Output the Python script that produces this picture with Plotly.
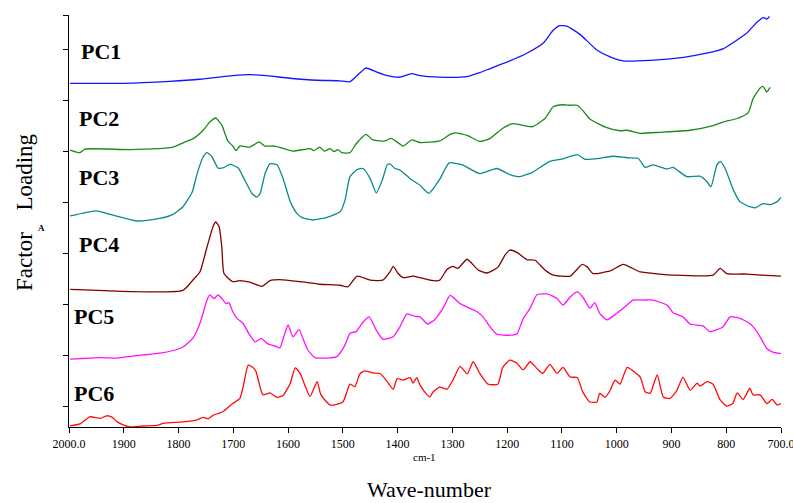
import plotly.graph_objects as go

# ---- data (wavenumber in cm-1, stacked factor loading) ----
pc1_x = [1998, 1901, 1816, 1761, 1701, 1670, 1639, 1597, 1547, 1505, 1487, 1458, 1438, 1418, 1396, 1374, 1359, 1323,
         1274, 1250, 1231, 1195, 1164, 1134, 1116, 1104, 1091, 1067, 1037, 1012, 988, 939, 878, 836, 805, 763, 744, 732, 726, 721]
pc1_y = [6.33, 6.33, 6.37, 6.41, 6.48, 6.50, 6.48, 6.43, 6.39, 6.38, 6.36, 6.63, 6.55, 6.48, 6.45, 6.52, 6.48, 6.45,
         6.46, 6.54, 6.62, 6.77, 6.92, 7.12, 7.37, 7.46, 7.45, 7.29, 6.99, 6.85, 6.77, 6.78, 6.84, 6.92, 7.01, 7.31, 7.53, 7.62, 7.59, 7.64]

pc2_x = [1998, 1980, 1971, 1889, 1810, 1788, 1774, 1755, 1743, 1732, 1721, 1710, 1701, 1695, 1688, 1670, 1653, 1642,
         1624, 1591, 1560, 1553, 1542, 1534, 1523, 1516, 1509, 1502, 1487, 1476, 1458, 1445, 1423, 1412, 1396, 1390,
         1374, 1359, 1323, 1304, 1295, 1273, 1250, 1231, 1208, 1189, 1164, 1153, 1131, 1116, 1098, 1085, 1072, 1062,
         1049, 1018, 994, 981, 957, 921, 866, 824, 806, 780, 760, 751, 738, 733, 726, 720]
pc2_y = [5.02, 4.97, 5.04, 5.03, 5.08, 5.18, 5.24, 5.41, 5.57, 5.65, 5.51, 5.20, 5.10, 5.01, 5.10, 5.08, 5.18, 5.10,
         5.10, 5.00, 5.05, 5.01, 5.08, 5.00, 5.05, 4.99, 5.03, 4.97, 4.97, 5.14, 5.33, 5.22, 5.20, 5.25, 5.14, 5.10,
         5.22, 5.17, 5.20, 5.33, 5.36, 5.31, 5.19, 5.25, 5.45, 5.54, 5.49, 5.48, 5.64, 5.87, 5.91, 5.90, 5.90, 5.80,
         5.63, 5.46, 5.40, 5.41, 5.35, 5.37, 5.41, 5.50, 5.57, 5.64, 5.75, 6.03, 6.24, 6.27, 6.16, 6.25]

pc3_x = [1998, 1949, 1925, 1876, 1834, 1810, 1792, 1775, 1766, 1755, 1748, 1739, 1728, 1719, 1706, 1691, 1679, 1666,
         1657, 1651, 1642, 1633, 1620, 1609, 1596, 1584, 1573, 1555, 1529, 1505, 1496, 1487, 1474, 1463, 1450, 1439,
         1428, 1419, 1414, 1405, 1396, 1377, 1359, 1343, 1323, 1306, 1282, 1250, 1219, 1195, 1177, 1153, 1122, 1098,
         1072, 1058, 1031, 1007, 981, 961, 948, 934, 908, 897, 872, 848, 835, 828, 817, 811, 802, 787, 775, 757, 747,
         733, 720, 707, 700]
pc3_y = [3.73, 3.83, 3.76, 3.63, 3.68, 3.76, 3.91, 4.20, 4.56, 4.89, 4.97, 4.89, 4.67, 4.67, 4.74, 4.67, 4.43, 4.17,
         4.10, 4.17, 4.56, 4.75, 4.73, 4.46, 4.01, 3.78, 3.69, 3.65, 3.70, 3.81, 4.04, 4.50, 4.64, 4.66, 4.46, 4.18,
         4.43, 4.73, 4.75, 4.66, 4.63, 4.46, 4.33, 4.17, 4.45, 4.77, 4.73, 4.56, 4.66, 4.54, 4.50, 4.59, 4.80, 4.85,
         4.93, 4.84, 4.86, 4.90, 4.87, 4.86, 4.68, 4.73, 4.65, 4.68, 4.50, 4.51, 4.40, 4.30, 4.73, 4.80, 4.66, 4.24,
         4.01, 3.91, 3.89, 3.97, 3.95, 4.01, 4.09]

pc4_x = [1998, 1792, 1774, 1761, 1748, 1737, 1732, 1726, 1721, 1717, 1701, 1688, 1670, 1648, 1633, 1615, 1578, 1542,
         1505, 1491, 1474, 1450, 1427, 1414, 1408, 1399, 1390, 1372, 1359, 1335, 1323, 1310, 1299, 1290, 1273, 1253,
         1237, 1217, 1204, 1195, 1180, 1164, 1149, 1131, 1116, 1085, 1063, 1054, 1043, 1012, 988, 957, 921, 897, 824,
         811, 799, 762, 738, 700]
pc4_y = [2.29, 2.27, 2.47, 2.63, 3.12, 3.52, 3.61, 3.52, 3.12, 2.60, 2.44, 2.46, 2.43, 2.35, 2.46, 2.48, 2.44, 2.39,
         2.37, 2.34, 2.55, 2.47, 2.47, 2.63, 2.74, 2.60, 2.52, 2.55, 2.52, 2.46, 2.47, 2.68, 2.74, 2.70, 2.88, 2.67,
         2.61, 2.72, 2.96, 3.06, 3.00, 2.87, 2.86, 2.67, 2.57, 2.55, 2.78, 2.73, 2.60, 2.65, 2.78, 2.63, 2.59, 2.57, 2.57,
         2.70, 2.60, 2.59, 2.57, 2.55]

pc5_x = [1998, 1943, 1912, 1883, 1828, 1806, 1792, 1774, 1761, 1748, 1743, 1735, 1728, 1721, 1713, 1708, 1701, 1693,
         1682, 1670, 1660, 1649, 1637, 1624, 1615, 1607, 1600, 1591, 1580, 1573, 1565, 1551, 1511, 1496, 1487, 1476,
         1463, 1452, 1439, 1427, 1408, 1396, 1383, 1368, 1359, 1345, 1332, 1317, 1304, 1286, 1255, 1244, 1231, 1219,
         1195, 1182, 1171, 1158, 1146, 1127, 1109, 1098, 1085, 1072, 1062, 1049, 1040, 1031, 1018, 1000, 988, 970, 952,
         934, 908, 897, 879, 866, 842, 830, 806, 793, 775, 757, 744, 733, 726, 715, 700]
pc5_y = [0.92, 0.95, 0.94, 0.98, 1.05, 1.10, 1.16, 1.33, 1.62, 2.08, 2.18, 2.11, 2.18, 2.11, 2.01, 2.03, 1.85, 1.72,
         1.62, 1.39, 1.26, 1.33, 1.22, 1.18, 1.14, 1.39, 1.59, 1.36, 1.50, 1.33, 1.12, 0.95, 0.97, 1.20, 1.43, 1.46,
         1.65, 1.75, 1.49, 1.31, 1.36, 1.55, 1.81, 1.76, 1.75, 1.61, 1.70, 1.92, 2.17, 2.01, 1.85, 1.75, 1.55, 1.41,
         1.39, 1.42, 1.71, 1.92, 2.18, 2.20, 2.11, 1.98, 2.14, 2.24, 2.14, 1.92, 2.03, 1.82, 1.69, 1.82, 1.92, 2.08, 2.08,
         2.08, 1.98, 1.83, 1.75, 1.61, 1.57, 1.46, 1.55, 1.75, 1.72, 1.62, 1.46, 1.26, 1.13, 1.06, 1.03]

pc6_x = [1998, 1980, 1962, 1943, 1931, 1921, 1912, 1901, 1889, 1865, 1839, 1828, 1792, 1766, 1755, 1746, 1737, 1719,
         1701, 1688, 1682, 1673, 1666, 1659, 1646, 1633, 1620, 1609, 1596, 1587, 1578, 1560, 1547, 1540, 1523, 1500,
         1487, 1478, 1469, 1460, 1445, 1432, 1419, 1408, 1401, 1390, 1377, 1372, 1365, 1359, 1346, 1341, 1335, 1323,
         1310, 1299, 1286, 1273, 1262, 1250, 1235, 1217, 1208, 1195, 1182, 1171, 1158, 1146, 1135, 1122, 1109, 1098,
         1085, 1072, 1062, 1049, 1036, 1031, 1021, 1012, 1003, 994, 981, 970, 957, 948, 939, 926, 915, 903, 890, 879,
         866, 853, 848, 835, 824, 811, 799, 788, 780, 769, 757, 751, 738, 726, 716, 707, 700]
pc6_y = [-0.39, -0.35, -0.21, -0.24, -0.19, -0.22, -0.31, -0.37, -0.41, -0.39, -0.38, -0.34, -0.31, -0.27, -0.22,
         -0.25, -0.18, -0.11, 0.05, 0.15, 0.38, 0.80, 0.77, 0.69, 0.22, 0.26, 0.17, 0.21, 0.45, 0.75, 0.64, 0.19, 0.48,
         0.22, 0.02, 0.08, 0.43, 0.38, 0.63, 0.69, 0.65, 0.64, 0.48, 0.33, 0.54, 0.51, 0.56, 0.45, 0.56, 0.41, 0.22,
         0.18, 0.28, 0.37, 0.33, 0.51, 0.78, 0.63, 0.87, 0.64, 0.43, 0.43, 0.76, 0.90, 0.84, 0.71, 0.87, 0.74, 0.64,
         0.82, 0.64, 0.76, 0.57, 0.56, 0.28, 0.08, 0.08, 0.25, 0.17, 0.31, 0.51, 0.43, 0.76, 0.69, 0.57, 0.28, 0.25,
         0.61, 0.18, 0.15, 0.31, 0.57, 0.31, 0.45, 0.39, 0.48, 0.43, 0.12, 0.00, 0.05, 0.26, 0.13, 0.35, 0.22, 0.22,
         0.05, 0.13, 0.02, 0.05]

series_names = ["PC1", "PC2", "PC3", "PC4", "PC5", "PC6"]
series_x = [pc1_x, pc2_x, pc3_x, pc4_x, pc5_x, pc6_x]
series_y = [pc1_y, pc2_y, pc3_y, pc4_y, pc5_y, pc6_y]
colors = ["#1414ff", "#1a8a1a", "#0a8a8a", "#800000", "#ff10ff", "#ff0a0a"]

# label anchors (wavenumber of left edge, loading level)
label_x = [1982, 1986, 1986, 1986, 1994, 1994]
label_y = [6.96, 5.65, 4.48, 3.16, 1.76, 0.25]

x_ticks = [2000, 1900, 1800, 1700, 1600, 1500, 1400, 1300, 1200, 1100, 1000, 900, 800, 700]
x_ticktext = ["2000.0", "1900", "1800", "1700", "1600", "1500", "1400", "1300", "1200", "1100", "1000", "900", "800", "700.0"]
y_ticks = [0, 1, 2, 3, 4, 5, 6, 7, 7.67]

SERIF = "Liberation Serif, Times New Roman, serif"

fig = go.Figure()
for name, xs, ys, c in zip(series_names, series_x, series_y, colors):
    fig.add_trace(go.Scatter(x=xs, y=ys, mode="lines", name=name,
                             line=dict(color=c, width=1.3, shape="spline", smoothing=0.5),
                             showlegend=False, hoverinfo="skip"))

for name, lx, ly in zip(series_names, label_x, label_y):
    fig.add_annotation(x=lx, y=ly, xref="x", yref="y", text="<b>%s</b>" % name, showarrow=False,
                       xanchor="left", yanchor="middle",
                       font=dict(family=SERIF, size=22, color="black"))

fig.add_annotation(x=0.4986, y=-0.073, xref="paper", yref="paper", text="cm-1", showarrow=False,
                   xanchor="center", yanchor="middle", font=dict(family=SERIF, size=11, color="black"))
fig.add_annotation(x=0.507, y=-0.151, xref="paper", yref="paper", text="Wave-number", showarrow=False,
                   xanchor="center", yanchor="middle", font=dict(family=SERIF, size=22, color="black"))
fig.add_annotation(x=-0.0618, y=0.403, xref="paper", yref="paper", text="Factor", showarrow=False,
                   textangle=-90, xanchor="center", yanchor="middle", font=dict(family=SERIF, size=23, color="black"))
fig.add_annotation(x=-0.0618, y=0.620, xref="paper", yref="paper", text="Loading", showarrow=False,
                   textangle=-90, xanchor="center", yanchor="middle", font=dict(family=SERIF, size=23, color="black"))
fig.add_annotation(x=-0.0393, y=0.483, xref="paper", yref="paper", text="<b>A</b>", showarrow=False,
                   xanchor="center", yanchor="middle", font=dict(family=SERIF, size=9, color="black"))

fig.update_xaxes(range=[2000, 700], tickvals=x_ticks, ticktext=x_ticktext, ticks="outside", ticklen=5,
                 tickcolor="black", showline=True, linecolor="black", linewidth=1.3, showgrid=False,
                 zeroline=False, ticklabeloverflow="allow", automargin=False,
                 tickfont=dict(family=SERIF, size=12, color="black"))
fig.update_yaxes(range=[-0.41, 7.67], tickvals=y_ticks, ticks="outside", ticklen=5, tickcolor="black",
                 showticklabels=False, showline=True, linecolor="black", linewidth=1.3, showgrid=False,
                 zeroline=False, automargin=False)

fig.update_layout(width=793, height=503, margin=dict(l=69, r=12, t=15, b=76),
                  plot_bgcolor="white", paper_bgcolor="white")

fig.write_html("out.html")
